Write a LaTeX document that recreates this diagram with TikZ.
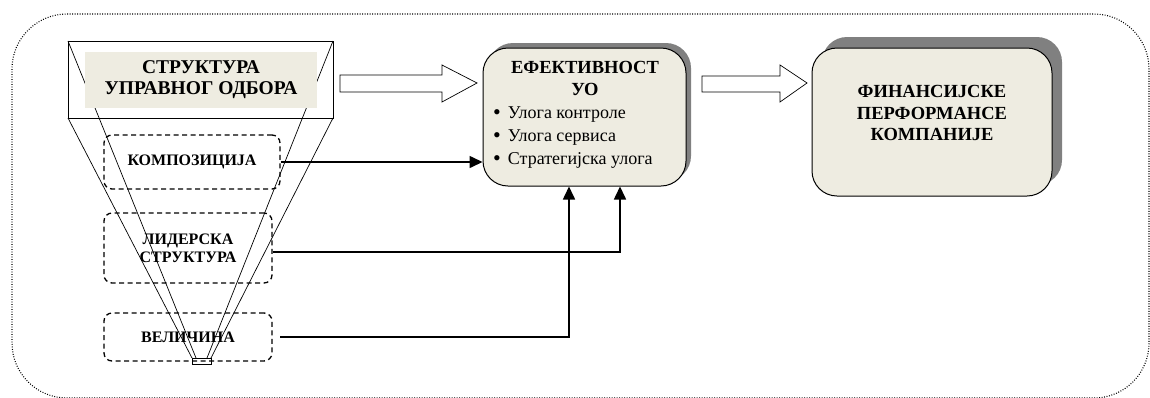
\documentclass[tikz,border=0pt]{standalone}
\usepackage{fontspec}
\setmainfont{Liberation Serif}
\usetikzlibrary{arrows.meta}
\definecolor{boxfill}{HTML}{EEECE1}
\definecolor{shadowgray}{HTML}{808080}
\newcommand{\mybul}{\raisebox{-1.5pt}{\fontsize{22}{22}\selectfont•}\hspace{7pt}}
\tikzset{
  dashbox/.style={draw, dashed, line width=1.3pt, dash pattern=on 5pt off 3.5pt, rounded corners=8pt, inner sep=0pt, align=center, font=\fontsize{16}{18}\selectfont\bfseries},
  mainbox/.style={draw, line width=1pt, fill=boxfill, rounded corners=25pt, inner sep=0pt},
  shadowbox/.style={fill=shadowgray, rounded corners=25pt},
  conn/.style={line width=1.6pt, -{Triangle[length=13pt,width=12pt]}},
  hollow/.style={draw, line width=0.7pt, fill=white},
  funnel/.style={line width=0.7pt},
  txt/.style={inner sep=0pt, font=\fontsize{18}{22}\selectfont},
  btxt/.style={inner sep=0pt, align=center, font=\fontsize{18.5}{21.5}\selectfont\bfseries}
}
\begin{document}
\begin{tikzpicture}[x=1pt,y=-1pt]
\useasboundingbox (0,0) rectangle (1150,397);
% outer dotted frame
\draw[line width=1.1pt, dash pattern=on 0.9pt off 1.6pt, rounded corners=55pt] (12,14) rectangle (1149,398);

% funnel
\coordinate (tl) at (68,41);
\coordinate (tr) at (333,41);
\coordinate (ml) at (68,118);
\coordinate (mr) at (333,118);
\draw[funnel] (tl) rectangle (mr);
\draw[funnel] (192,358) rectangle (211,364);
\draw[funnel] (ml) -- (192,358);
\draw[funnel] (mr) -- (211,358);
\draw[funnel] (tl) -- (196,358);
\draw[funnel] (tr) -- (207,358);
\node[fill=boxfill, minimum width=232pt, minimum height=56pt, btxt, font=\fontsize{19.5}{21}\selectfont\bfseries] (title) at (201,80) {СТРУКТУРА\\УПРАВНОГ ОДБОРА};

% dashed boxes
\node[dashbox, minimum width=176pt, minimum height=54pt] (komp) at (192,162) {КОМПОЗИЦИЈА};
\node[dashbox, minimum width=168pt, minimum height=70pt] (lid) at (188,248) {ЛИДЕРСКА\\СТРУКТУРА};
\node[dashbox, minimum width=168pt, minimum height=48pt] (vel) at (188,337) {ВЕЛИЧИНА};

% effectiveness box
\fill[shadowbox] (488,43) rectangle (691,181);
\node[mainbox, minimum width=203pt, minimum height=138pt] (eff) at (584.5,117) {};
\node[btxt, anchor=base] (efft) at (585,73) {ЕФЕКТИВНОСТ};
\node[btxt, anchor=base] (uo) at (585,95) {УО};
\node[txt, anchor=base west] (b1) at (493,118) {\mybul Улога контроле};
\node[txt, anchor=base west] (b2) at (493,141) {\mybul Улога сервиса};
\node[txt, anchor=base west] (b3) at (493,164) {\mybul Стратегијска улога};

% financial box
\fill[shadowbox] (822,37) rectangle (1062,185);
\node[mainbox, minimum width=240pt, minimum height=148pt] (fin) at (932,122) {};
\node[btxt] (fint) at (932,113) {ФИНАНСИЈСКЕ\\ПЕРФОРМАНСЕ\\КОМПАНИЈЕ};

% hollow block arrows
\draw[hollow] (340,75) -- (442,75) -- (442,65) -- (477,83) -- (442,102) -- (442,92) -- (340,92) -- cycle;
\draw[hollow] (702,76) -- (780,76) -- (780,65) -- (807,83) -- (780,102) -- (780,92) -- (702,92) -- cycle;

% connectors
\draw[conn] (komp.east |- 0,162) -- (eff.west |- 0,162);
\draw[conn] (lid.east |- 0,252) -| (eff.south -| 620,0);
\draw[conn] (280,337) -| (eff.south -| 569,0);
\end{tikzpicture}
\end{document}
